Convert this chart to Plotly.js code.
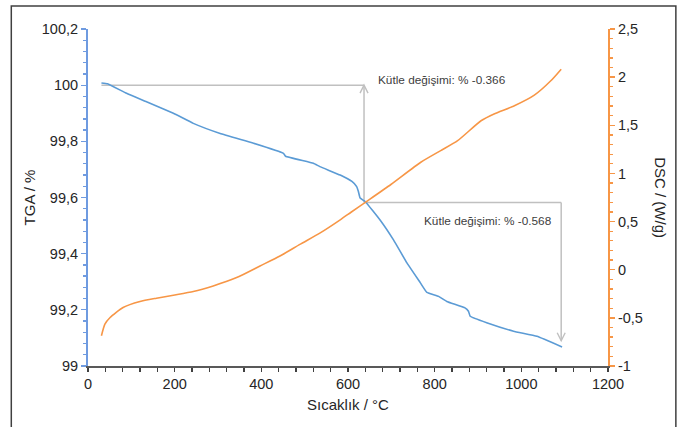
<!DOCTYPE html>
<html>
<head>
<meta charset="utf-8">
<script src="https://cdn.plot.ly/plotly-3.0.1.min.js"></script>
<style>
  html, body { margin: 0; padding: 0; background: #ffffff; }
  #chart { width: 682px; height: 427px; }
</style>
</head>
<body>
<div id="chart"></div>
<script>
// TGA curve (temperature in °C, mass in %)
const tgaTemp = [31, 45, 89, 135, 197, 243, 305, 382, 451, 456, 520, 535, 582, 609, 620, 624, 628, 640, 674, 705, 736, 767, 782, 809, 828, 870, 878, 882, 920, 982, 1036, 1094];
const tgaMass = [100.008, 100.005, 99.971, 99.941, 99.900, 99.864, 99.828, 99.793, 99.757, 99.747, 99.722, 99.710, 99.680, 99.657, 99.639, 99.621, 99.598, 99.585, 99.520, 99.449, 99.367, 99.296, 99.262, 99.248, 99.230, 99.207, 99.195, 99.177, 99.154, 99.124, 99.106, 99.068];

// DSC curve (temperature in °C, heat flow in W/g)
const dscTemp = [31, 39, 51, 81, 120, 158, 197, 243, 289, 343, 397, 443, 489, 535, 582, 607, 640, 699, 768, 814, 853, 907, 937, 984, 1030, 1068, 1092];
const dscFlow = [-0.686, -0.565, -0.496, -0.392, -0.330, -0.296, -0.265, -0.227, -0.168, -0.082, 0.039, 0.142, 0.263, 0.380, 0.518, 0.597, 0.700, 0.885, 1.116, 1.237, 1.340, 1.547, 1.617, 1.703, 1.813, 1.962, 2.083];

// Tick labels
const xTickVals = [0, 200, 400, 600, 800, 1000, 1200];
const xTickText = ["0", "200", "400", "600", "800", "1000", "1200"];
const yTickVals = [99, 99.2, 99.4, 99.6, 99.8, 100, 100.2];
const yTickText = ["99", "99,2", "99,4", "99,6", "99,8", "100", "100,2"];
const y2TickVals = [-1, -0.5, 0, 0.5, 1, 1.5, 2, 2.5];
const y2TickText = ["-1", "-0,5", "0", "0,5", "1", "1,5", "2", "2,5"];

// Mass-change markers
const step1 = {tStart: 31, tArrow: 637, mTop: 100.0, mBottom: 99.582, label: "Kütle değişimi: % -0.366"};
const step2 = {tStart: 637, tArrow: 1092, mTop: 99.582, mBottom: 99.09, label: "Kütle değişimi: % -0.568"};

const FONT = "Liberation Sans, Arial, sans-serif";
const GREY = "#c0c0c0";

const traces = [
  {x: tgaTemp, y: tgaMass, type: "scatter", mode: "lines", name: "TGA",
   line: {color: "#5b9bd5", width: 1.6, shape: "spline", smoothing: 0.3}, yaxis: "y", hoverinfo: "x+y"},
  {x: dscTemp, y: dscFlow, type: "scatter", mode: "lines", name: "DSC",
   line: {color: "#f79646", width: 1.6, shape: "spline", smoothing: 0.6}, yaxis: "y2", hoverinfo: "x+y"}
];

function chevron(xa, ya, up) {
  const s = up ? -1 : 1;
  return {type: "path", xref: "x", yref: "y", xsizemode: "pixel", ysizemode: "pixel",
          xanchor: xa, yanchor: ya,
          path: "M-4," + (8 * s) + " L0,0 L4," + (8 * s),
          line: {color: GREY, width: 1.4}, layer: "below"};
}

const layout = {
  width: 682, height: 427,
  margin: {l: 88, r: 74.3, t: 28.5, b: 60.7},
  paper_bgcolor: "#ffffff", plot_bgcolor: "#ffffff",
  showlegend: false,
  font: {family: FONT, size: 14.5, color: "#262626"},
  xaxis: {
    range: [0, 1200], tickmode: "array", tickvals: xTickVals, ticktext: xTickText,
    showgrid: false, zeroline: false, showline: true, linecolor: "#595959", linewidth: 2,
    ticks: "outside", ticklen: 4, tickwidth: 1.3, tickcolor: "#404040",
    minor: {tickmode: "linear", tick0: 0, dtick: 40, ticks: "outside", ticklen: 4, tickwidth: 1.3, tickcolor: "#404040"},
    title: {text: "Sıcaklık / °C", font: {family: FONT, size: 15, color: "#262626"}, standoff: 8},
    automargin: false
  },
  yaxis: {
    range: [99, 100.2], tickmode: "array", tickvals: yTickVals, ticktext: yTickText,
    showgrid: false, zeroline: false, showline: true, linecolor: "#6f9be0", linewidth: 2,
    ticks: "outside", ticklen: 5, tickwidth: 1.3, tickcolor: "#6f9be0",
    minor: {tickmode: "linear", tick0: 99, dtick: 0.04, ticks: "outside", ticklen: 3, tickwidth: 1.3, tickcolor: "#6f9be0"},
    title: {text: "TGA / %", font: {family: FONT, size: 15, color: "#262626"}, standoff: 3},
    automargin: false
  },
  yaxis2: {
    range: [-1, 2.5], overlaying: "y", side: "right", anchor: "x",
    tickmode: "array", tickvals: y2TickVals, ticktext: y2TickText,
    showgrid: false, zeroline: false, showline: true, linecolor: "#f79646", linewidth: 2,
    ticks: "outside", ticklen: 5, tickwidth: 1.3, tickcolor: "#f79646",
    minor: {tickmode: "linear", tick0: -1, dtick: 0.1, ticks: "outside", ticklen: 3, tickwidth: 1.3, tickcolor: "#f79646"},
    automargin: false
  },
  shapes: [
    {type: "line", xref: "x", yref: "y", x0: step1.tStart, x1: step1.tArrow, y0: step1.mTop, y1: step1.mTop,
     line: {color: GREY, width: 1.5}, layer: "below"},
    {type: "line", xref: "x", yref: "y", x0: step2.tStart, x1: step2.tArrow, y0: step2.mTop, y1: step2.mTop,
     line: {color: GREY, width: 1.5}, layer: "below"},
    {type: "line", xref: "x", yref: "y", x0: step1.tArrow, x1: step1.tArrow, y0: step1.mBottom, y1: step1.mTop,
     line: {color: GREY, width: 1.5}, layer: "below"},
    {type: "line", xref: "x", yref: "y", x0: step2.tArrow, x1: step2.tArrow, y0: step2.mTop, y1: step2.mBottom,
     line: {color: GREY, width: 1.5}, layer: "below"},
    chevron(step1.tArrow, step1.mTop, true),
    chevron(step2.tArrow, step2.mBottom, false),
    {type: "rect", xref: "paper", yref: "paper", x0: -0.1475, x1: 1.1305, y0: -0.3, y1: 1.068,
     line: {color: "#404040", width: 1.5}, fillcolor: "rgba(0,0,0,0)", layer: "above"}
  ],
  annotations: [
    {xref: "x", yref: "y", x: 664, y: 100.018, xanchor: "left", yanchor: "middle", showarrow: false,
     text: step1.label, font: {family: FONT, size: 11.8, color: "#404040"}},
    {xref: "x", yref: "y", x: 770, y: 99.517, xanchor: "left", yanchor: "middle", showarrow: false,
     text: step2.label, font: {family: FONT, size: 11.8, color: "#404040"}},
    {xref: "paper", yref: "paper", x: 1.1006, y: 0.5, xanchor: "center", yanchor: "middle", showarrow: false,
     textangle: 90, text: "DSC / (W/g)", font: {family: FONT, size: 15, color: "#262626"}}
  ]
};

Plotly.newPlot("chart", traces, layout, {displayModeBar: false, staticPlot: true});
</script>
</body>
</html>
